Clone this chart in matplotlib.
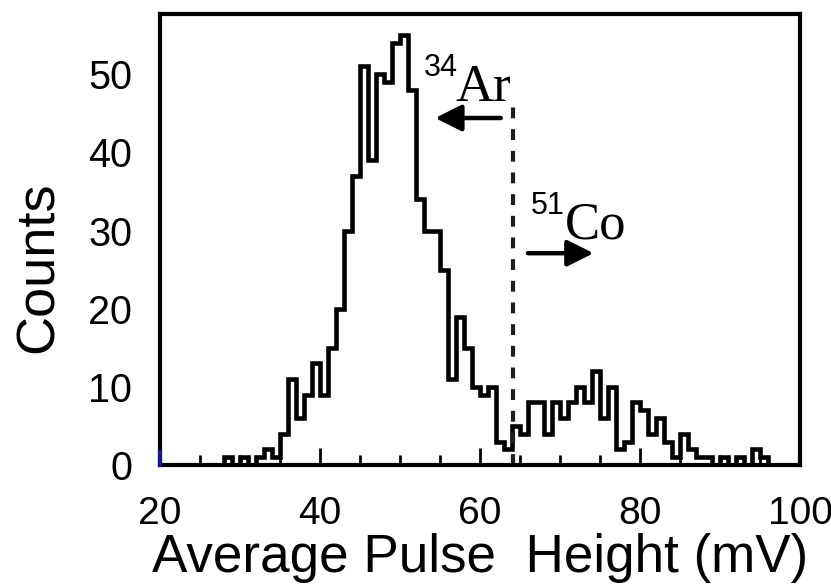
import numpy as np
import matplotlib
matplotlib.use("Agg")
import matplotlib.pyplot as plt
from matplotlib.ticker import MultipleLocator

# pulse-height histogram, 1 mV bins from 20 to 100 mV
bin_edges = np.arange(20, 101, 1)
counts = [
    0, 0, 0, 0, 0, 0, 0, 0, 1, 0,        # 20-29
    1, 0, 1, 2, 1, 4, 11, 6, 9, 13,      # 30-39
    9, 15, 20, 30, 37, 51, 39, 50, 49, 54,  # 40-49
    55, 48, 34, 30, 30, 25, 11, 19, 15, 10,  # 50-59
    9, 10, 3, 2, 5, 4, 8, 8, 4, 8,       # 60-69
    6, 8, 10, 8, 12, 6, 10, 2, 3, 8,     # 70-79
    7, 4, 6, 3, 1, 4, 2, 1, 1, 0,        # 80-89
    1, 0, 1, 0, 2, 1, 0, 0, 0, 0,        # 90-99
]

cut_mv = 64.1        # separation between the two peaks
cut_top = 46.7

sans = ["Liberation Sans", "DejaVu Sans"]
serif = ["Liberation Serif", "DejaVu Serif"]

fig = plt.figure(figsize=(8.31, 5.86), dpi=100)
ax = fig.add_axes([0.1925, 0.2065, 0.7702, 0.7695])

ax.stairs(counts, bin_edges, color="black", linewidth=3.3, baseline=0)

# separation line and region labels
ax.plot([cut_mv, cut_mv], [0, cut_top], color="#1e1e1e", linewidth=3,
        linestyle=(0, (2.6, 2.6)))

arrow = dict(arrowstyle="-|>", color="black", lw=3.2,
             mutation_scale=40, shrinkA=0, shrinkB=0)
ax.annotate("", xy=(54.4, 44.4), xytext=(62.6, 44.4), arrowprops=arrow)
ax.annotate("", xy=(74.2, 27.1), xytext=(66.0, 27.1), arrowprops=arrow)

ax.text(53.0, 50.8, "34", family=sans, fontsize=22, va="center", ha="left")
ax.text(56.9, 46.6, "Ar", family=serif, fontsize=38, va="baseline", ha="left")
ax.text(66.4, 33.2, "51", family=sans, fontsize=22, va="center", ha="left")
ax.text(70.6, 29.0, "Co", family=serif, fontsize=38, va="baseline", ha="left")

# dark blue stub at the foot of the y axis
ax.plot([20, 20], [0, 1.7], color="#16168a", linewidth=3, clip_on=False,
        zorder=5)

ax.set_xlim(20, 100)
ax.set_ylim(0, 57.7)
ax.xaxis.set_major_locator(MultipleLocator(20))
ax.xaxis.set_minor_locator(MultipleLocator(5))
ax.yaxis.set_major_locator(MultipleLocator(10))
ax.tick_params(axis="x", which="major", direction="in", length=12, width=2,
               labelsize=28, pad=22)
ax.tick_params(axis="x", which="minor", direction="in", length=7, width=2)
ax.tick_params(axis="y", which="major", direction="in", length=0,
               labelsize=28.5, pad=20)
for lab in ax.get_xticklabels() + ax.get_yticklabels():
    lab.set_family(sans)

for side in ax.spines.values():
    side.set_linewidth(3)

ax.set_xlabel("Average Pulse  Height (mV)", family=sans, fontsize=38.2,
              labelpad=1)
ax.set_ylabel("Counts", family=sans, fontsize=39)
ax.yaxis.set_label_coords(-0.15, 0.439)

fig.savefig("out.png", dpi=100)
